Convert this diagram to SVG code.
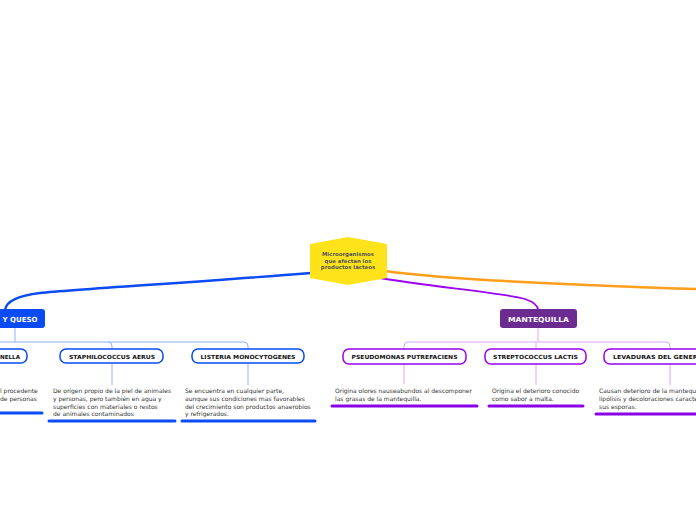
<svg xmlns="http://www.w3.org/2000/svg" width="696" height="520" viewBox="0 0 696 520">
<style>
.desc{font-family:"DejaVu Sans",Verdana,sans-serif;font-size:6px;fill:#333}
.lbl{font-family:"DejaVu Sans",Verdana,sans-serif;font-size:5.6px;font-weight:bold;fill:#111;text-anchor:middle}
.main{font-family:"DejaVu Sans",Verdana,sans-serif;font-size:7px;font-weight:bold;fill:#fff;text-anchor:middle}
.ctr{font-family:"DejaVu Sans",Verdana,sans-serif;font-size:5.4px;font-weight:bold;fill:#555;text-anchor:middle}
.bn{fill:#fff;stroke:#0a4bf5;stroke-width:1.5}
.pn{fill:#fff;stroke:#9b00f0;stroke-width:1.5}
.bthin{fill:none;stroke:#8fb0ff;stroke-width:1}
.pthin{fill:none;stroke:#dba6ff;stroke-width:1}
.bul{stroke:#0a4bf5;stroke-width:3;stroke-linecap:round}
.pul{stroke:#8a00e6;stroke-width:3;stroke-linecap:round}
</style>
<rect width="696" height="520" fill="#fff"/>
<g id="connectors">
<path d="M 311 273 C 200 282 80 289 40 293 C 15 296 6 302 5 310" fill="none" stroke="#0a4bf5" stroke-width="2.4"/>
<path d="M 374 277 C 430 287 500 292 525 299 C 534 302 538 306 538 310" fill="none" stroke="#9b00f0" stroke-width="1.8"/>
<path d="M 385 271 C 450 280 600 286 696 289" fill="none" stroke="#ff9e1a" stroke-width="2.5"/>
<path d="M 15 328 V 342" class="bthin" stroke="#0a4bf5"/>
<path d="M 0 342 H 244 Q 248 342 248 346 V 349 M 108 342 Q 112 342 112 346 V 349" class="bthin"/>
<path d="M 112 363 V 385 M 248 363 V 385" class="bthin"/>
<path d="M 538 328 V 342" class="pthin" stroke="#9b00f0"/>
<path d="M 408 342 Q 404 342 404 346 V 349 M 408 342 H 666 Q 670 342 670 346 V 349 M 536 342 V 349" class="pthin"/>
<path d="M 404 364 V 384 M 536 364 V 385 M 670 364 V 385" class="pthin"/>
</g>
<g id="center">
<polygon points="348,237 387,244 387,278 348,285 310,278 310,244" fill="#ffe31a"/>
<text class="ctr" x="348" y="256">Microorganismos</text>
<text class="ctr" x="348" y="262.5">que afectan los</text>
<text class="ctr" x="348" y="269">productos lácteos</text>
</g>
<g id="leche-queso">
<rect x="-10" y="309" width="55" height="19" rx="3" fill="#0a4bf5"/>
<text class="main" x="20" y="321.5">Y QUESO</text>
</g>
<g id="salmonella">
<rect x="-20" y="349" width="47" height="14" rx="6" class="bn"/>
<text class="lbl" x="10" y="358.5">NELLA</text>
<text class="desc" x="0" y="393">l procedente</text>
<text class="desc" x="0" y="401">de personas</text>
<line x1="0" y1="413" x2="42" y2="413" class="bul"/>
</g>
<g id="staphilococcus">
<rect x="60" y="349" width="103" height="14" rx="6" class="bn"/>
<text class="lbl" x="112" y="358.5" textLength="86" lengthAdjust="spacingAndGlyphs">STAPHILOCOCCUS AERUS</text>
<text class="desc" x="53" y="393">De origen propio de la piel de animales</text>
<text class="desc" x="53" y="401">y personas, pero también en agua y</text>
<text class="desc" x="53" y="408.5">superficies con materiales o restos</text>
<text class="desc" x="53" y="416">de animales contaminados</text>
<line x1="49" y1="421" x2="175" y2="421" class="bul"/>
</g>
<g id="listeria">
<rect x="192" y="349" width="112" height="14" rx="6" class="bn"/>
<text class="lbl" x="248" y="358.5" textLength="95" lengthAdjust="spacingAndGlyphs">LISTERIA MONOCYTOGENES</text>
<text class="desc" x="185" y="393">Se encuentra en cualquier parte,</text>
<text class="desc" x="185" y="401">aunque sus condiciones mas favorables</text>
<text class="desc" x="185" y="408.5">del crecimiento son productos anaerobios</text>
<text class="desc" x="185" y="416">y refrigerados.</text>
<line x1="182" y1="421" x2="315" y2="421" class="bul"/>
</g>
<g id="mantequilla">
<rect x="500" y="309" width="77" height="19" rx="3" fill="#6b2b90"/>
<text class="main" x="538.5" y="321.5" textLength="61" lengthAdjust="spacingAndGlyphs">MANTEQUILLA</text>
</g>
<g id="pseudomonas">
<rect x="343" y="349" width="123" height="15" rx="6" class="pn"/>
<text class="lbl" x="404.5" y="359" textLength="106" lengthAdjust="spacingAndGlyphs">PSEUDOMONAS PUTREFACIENS</text>
<text class="desc" x="335" y="393" textLength="137" lengthAdjust="spacingAndGlyphs">Origina olores nauseabundos al descomponer</text>
<text class="desc" x="335" y="401">las grasas de la mantequilla.</text>
<line x1="332" y1="406" x2="477" y2="406" class="pul"/>
</g>
<g id="streptococcus">
<rect x="485" y="349" width="101" height="15" rx="6" class="pn"/>
<text class="lbl" x="535.5" y="359" textLength="85" lengthAdjust="spacingAndGlyphs">STREPTOCOCCUS LACTIS</text>
<text class="desc" x="492" y="393">Origina el deterioro conocido</text>
<text class="desc" x="492" y="401">como sabor a malta.</text>
<line x1="489" y1="406" x2="583" y2="406" class="pul"/>
</g>
<g id="levaduras">
<rect x="604" y="349" width="110" height="15" rx="6" class="pn"/>
<text class="lbl" x="613" y="359" style="text-anchor:start" textLength="90" lengthAdjust="spacingAndGlyphs">LEVADURAS DEL GENERO</text>
<text class="desc" x="599" y="393">Causan deterioro de la mantequ</text>
<text class="desc" x="599" y="401">lipólisis y decoloraciones caracte</text>
<text class="desc" x="599" y="408.5">sus esporas.</text>
<line x1="596" y1="414" x2="700" y2="414" class="pul"/>
</g>
</svg>
